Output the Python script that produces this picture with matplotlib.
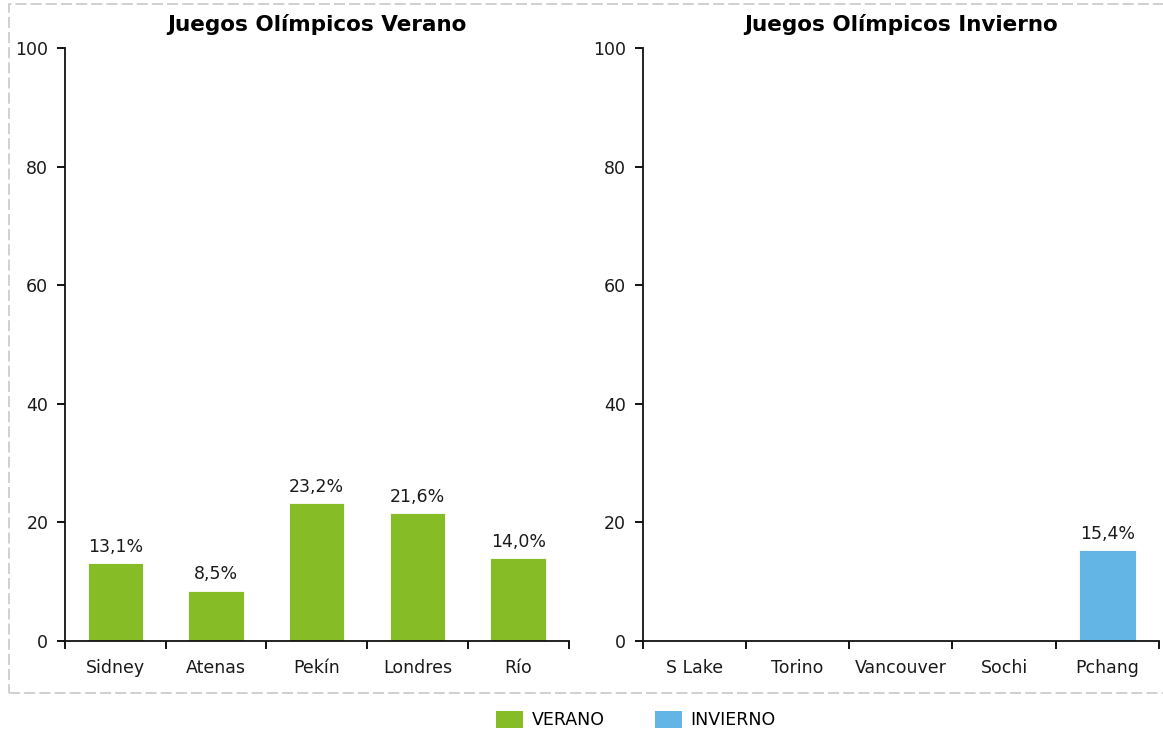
import matplotlib
matplotlib.use("Agg")
import matplotlib.pyplot as plt
from matplotlib.patches import Rectangle, Patch

plt.rcParams['font.family'] = ['DejaVu Sans']

summer_cities = ["Sidney", "Atenas", "Pekín", "Londres", "Río"]
summer_values = [13.1, 8.5, 23.2, 21.6, 14.0]
winter_cities = ["S Lake", "Torino", "Vancouver", "Sochi", "Pchang"]
winter_values = [None, None, None, None, 15.4]
yticks = [0, 20, 40, 60, 80, 100]
titles = ["Juegos Olímpicos Verano", "Juegos Olímpicos Invierno"]
legend_labels = ["VERANO", "INVIERNO"]
colors = ["#86bc25", "#62b5e5"]

W, H = 1163, 731
fig = plt.figure(figsize=(W / 100, H / 100), dpi=100)

def fx(px):
    return px / W

def fy(py):
    return 1 - py / H

ax_specs = [(65, 568.5), (642.5, 1159)]
top, bottom = 48, 641
FS = 12.5

fig.patches.append(Rectangle((fx(9), fy(693)), fx(1180) - fx(9), fy(4) - fy(693),
                             transform=fig.transFigure, fill=False,
                             edgecolor="#d0d0d0", linestyle=(0, (5.7, 2.1)), linewidth=1.4))

for i, (cities, vals) in enumerate([(summer_cities, summer_values), (winter_cities, winter_values)]):
    x0, x1 = ax_specs[i]
    ax = fig.add_axes([fx(x0), fy(bottom), fx(x1) - fx(x0), fy(top) - fy(bottom)])
    xs = [j for j, v in enumerate(vals) if v is not None]
    hs = [v for v in vals if v is not None]
    ax.bar(xs, hs, width=0.55, color=colors[i], edgecolor="white", linewidth=0.6)
    for x, h in zip(xs, hs):
        ax.text(x, h + 1.2, f"{h:.1f}%".replace(".", ","), ha="center", va="bottom",
                fontsize=FS, color="#1a1a1a")
    ax.set_xlim(-0.5, len(cities) - 0.5)
    ax.set_ylim(0, 100)
    ax.set_yticks(yticks)
    ax.set_yticklabels([str(t) for t in yticks])
    ax.set_xticks([j - 0.5 for j in range(len(cities) + 1)])
    ax.set_xticklabels([])
    ax.set_xticks(range(len(cities)), minor=True)
    ax.set_xticklabels(cities, minor=True)
    ax.tick_params(axis="x", which="major", length=6, width=1.3, direction="out")
    ax.tick_params(axis="x", which="minor", length=0, pad=13, labelsize=FS, labelcolor="#1a1a1a")
    ax.tick_params(axis="y", length=6, width=1.3, direction="out", pad=6, labelsize=FS, labelcolor="#1a1a1a")
    for s in ["top", "right"]:
        ax.spines[s].set_visible(False)
    for s in ["left", "bottom"]:
        ax.spines[s].set_linewidth(1.3)
        ax.spines[s].set_color("#111111")
    ax.set_title(titles[i], fontsize=15.5, fontweight="bold", pad=12)

handles = [Patch(facecolor=c, edgecolor="none") for c in colors]
fig.legend(handles, legend_labels, loc="center", bbox_to_anchor=(fx(636), fy(720)),
           ncol=2, frameon=False, fontsize=FS, handlelength=1.55, handleheight=1.15,
           columnspacing=2.9, handletextpad=0.5)

fig.savefig("out.png", dpi=100)
